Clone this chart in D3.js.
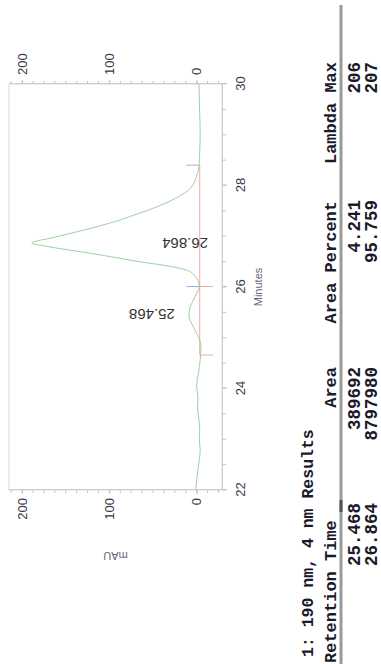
<!DOCTYPE html>
<html><head><meta charset="utf-8">
<script src="https://cdn.jsdelivr.net/npm/d3@7"></script>
<style>html,body{margin:0;padding:0;background:#fff;overflow:hidden}</style>
</head><body>
<svg id="c" width="381" height="664"></svg>
<script>
// ---- data ----
const minutes = [22.00,22.20,22.40,22.80,23.00,23.20,23.64,23.80,24.04,24.30,24.56,24.82,25.09,25.25,25.35,25.45,25.59,25.70,25.81,26.01,26.17,26.25,26.33,26.42,26.50,26.58,26.66,26.79,26.87,26.96,27.06,27.19,27.32,27.44,27.55,27.65,27.75,27.85,27.95,28.05,28.17,28.30,28.44,28.70,29.03,29.40,29.68,30.00];
const mAU     = [1,0,-1.5,-4,-3,-3.5,-1,-1.5,0,-2,-4,-5,0,5,7.7,8.8,7.7,5,2,-3,0,4,11,35,66,93,120,168,189,168,144,114,88,68,50,36,24,14,7,3,0.5,-2,-3,-3.5,-4,-3.5,-3,-2.6];
const peakTimes = [25.468, 26.864];
const peakLabelLevel = [25, -13];
const baselineStart = [24.66, 26.01];
const baselineEnd = [26.01, 28.40];
const baselineLevel = -3.5;
const xTicks = [22,24,26,28,30];
const yTicks = [0,100,200];
const tableTitle = "1: 190 nm, 4 nm Results";
const tableHeaders = ["Retention Time","Area","Area Percent","Lambda Max"];
const retentionTimes = ["25.468","26.864"];
const areas = ["389692","8797980"];
const areaPercents = ["4.241","95.759"];
const lambdaMax = ["206","207"];

// ---- layout (chart drawn unrotated, then turned -90deg) ----
const svg = d3.select("#c");
const g = svg.append("g").attr("transform","translate(0,664) rotate(-90)");
const x = d3.scaleLinear([22,30],[174,580]);
const y = d3.scaleLinear([-29,215],[222,9]);
const axisFont = "'Liberation Sans', Arial, sans-serif";

g.append("rect").attr("x",x(22)).attr("y",y(215)).attr("width",x(30)-x(22)).attr("height",y(-29)-y(215))
  .attr("fill","none").attr("stroke","#d9d9d9");

function styleAxis(sel){
  sel.select(".domain").attr("stroke","#cfcfcf");
  sel.selectAll(".tick line").attr("stroke","#c4c4c4");
  sel.selectAll("text").attr("font-family",axisFont).attr("font-size",13).attr("fill","#3a3a4a");
}
// minutes axis
const bx = g.append("g").attr("transform",`translate(0,${y(-29)})`)
  .call(d3.axisBottom(x).tickValues(xTicks).tickSize(5).tickPadding(9).tickSizeOuter(0));
styleAxis(bx);
bx.selectAll(".minor").data(d3.range(22,30.001,0.5)).join("line").attr("class","minor")
  .attr("x1",d=>x(d)).attr("x2",d=>x(d)).attr("y1",0).attr("y2",4).attr("stroke","#c4c4c4");
// left mAU axis
const ly = g.append("g").attr("transform",`translate(${x(22)},0)`)
  .call(d3.axisLeft(y).tickValues(yTicks).tickSize(4).tickPadding(4).tickSizeOuter(0));
styleAxis(ly);
const minorY = d3.range(-25,215,12.5);
ly.selectAll(".minor").data(minorY).join("line").attr("class","minor")
  .attr("y1",d=>y(d)).attr("y2",d=>y(d)).attr("x1",0).attr("x2",-3).attr("stroke","#c4c4c4");
// right mAU axis
const ry = g.append("g").attr("transform",`translate(${x(30)},0)`)
  .call(d3.axisRight(y).tickValues(yTicks).tickSize(4).tickPadding(5).tickSizeOuter(0));
styleAxis(ry);
ry.selectAll(".minor").data(minorY).join("line").attr("class","minor")
  .attr("y1",d=>y(d)).attr("y2",d=>y(d)).attr("x1",0).attr("x2",3).attr("stroke","#c4c4c4");

g.append("text").attr("x",(x(22)+x(30))/2).attr("y",262).attr("text-anchor","middle")
  .attr("font-family",axisFont).attr("font-size",11).attr("fill","#667").text("Minutes");
g.append("text").attr("transform",`translate(112,${(y(215)+y(-29))/2}) rotate(-90)`).attr("text-anchor","middle")
  .attr("font-family",axisFont).attr("font-size",11).attr("fill","#667").text("mAU");

// integration baseline + markers
baselineStart.forEach((s,i)=>{
  g.append("line").attr("x1",x(s)).attr("x2",x(baselineEnd[i])).attr("y1",y(baselineLevel)).attr("y2",y(baselineLevel))
    .attr("stroke","#f3a6a6").attr("stroke-width",1);
  g.append("line").attr("x1",x(s)).attr("x2",x(s)).attr("y1",y(baselineLevel)).attr("y2",y(-19))
    .attr("stroke","#f3a6a6");
  g.append("line").attr("x1",x(baselineEnd[i])).attr("x2",x(baselineEnd[i])).attr("y1",y(baselineLevel)).attr("y2",y(12))
    .attr("stroke","#a9a9f0");
});

// trace
const pts = minutes.map((m,i)=>[m,mAU[i]]);
g.append("path").datum(pts).attr("fill","none").attr("stroke","#9fd09f").attr("stroke-width",1)
  .attr("d",d3.line().x(d=>x(d[0])).y(d=>y(d[1])).curve(d3.curveMonotoneX));

// peak labels
peakTimes.forEach((t,i)=>{
  g.append("text").attr("transform",`translate(${x(t)+5},${y(peakLabelLevel[i])}) rotate(-90)`)
    .attr("font-family","Arial, 'Liberation Sans', sans-serif").attr("font-size",15).attr("fill","#333")
    .text(t.toFixed(3));
});

// results table
const mono = "'Liberation Mono','Courier New',monospace";
g.append("line").attr("x1",0).attr("x2",659).attr("y1",341).attr("y2",341).attr("stroke","#9a9a9a").attr("stroke-width",3);
g.append("line").attr("x1",152).attr("x2",164).attr("y1",341).attr("y2",341).attr("stroke","#555").attr("stroke-width",3);
g.append("text").attr("x",7).attr("y",313).attr("font-family",mono).attr("font-weight","bold")
  .attr("font-size",16.5).attr("fill","#1a1a2a").text(tableTitle);
const colEnds = [null,297,463,602];
tableHeaders.forEach((h,i)=>{
  const t = g.append("text").attr("y",336).attr("font-family",mono).attr("font-weight","bold")
    .attr("font-size",17).attr("fill","#1a1a2a").text(h);
  if(i===0) t.attr("x",1); else t.attr("x",colEnds[i]).attr("text-anchor","end");
});
const rowBase = [360,377];
const cols = [retentionTimes, areas, areaPercents, lambdaMax];
const dataEnds = [161,297,464,602];
cols.forEach((col,ci)=>{
  col.forEach((v,ri)=>{
    g.append("text").attr("x",dataEnds[ci]).attr("y",rowBase[ri]).attr("text-anchor","end")
      .attr("font-family",mono).attr("font-weight","bold").attr("font-size",17.5).attr("fill","#1a1a2a").text(v);
  });
});
</script>
</body></html>
